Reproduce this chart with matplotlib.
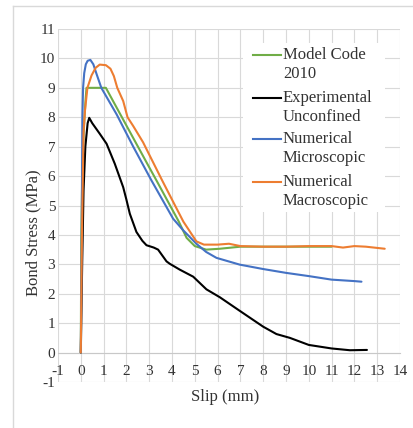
import matplotlib
matplotlib.use("Agg")
import matplotlib.pyplot as plt
from matplotlib.lines import Line2D
from matplotlib.patches import Rectangle

# ---- data ----
mc_x = [0, 0.02, 0.06, 0.12, 0.2, 0.25, 1.1, 2.0, 3.0, 3.32, 4.3, 4.64, 5.0, 5.5, 6.1, 7.0, 8, 9, 10, 11]
mc_y = [0, 3.8, 5.9, 7.4, 8.5, 9.0, 9.0, 7.72, 6.3, 5.85, 4.45, 3.9, 3.62, 3.5, 3.53, 3.6, 3.6, 3.6, 3.6, 3.6]

exp_x = [0, 0.06, 0.12, 0.2, 0.3, 0.37, 0.5, 0.83, 1.13, 1.49, 1.86, 2.0, 2.15, 2.44, 2.7, 2.88, 3.2, 3.39,
         3.76, 3.9, 4.34, 4.93, 5.51, 6.1, 6.97, 8.0, 8.58, 9.17, 10.0, 11.0, 11.8, 12.55]
exp_y = [0, 3.0, 5.5, 7.0, 7.8, 7.98, 7.8, 7.44, 7.1, 6.42, 5.62, 5.2, 4.72, 4.1, 3.8, 3.65, 3.57, 3.5,
         3.1, 3.02, 2.82, 2.58, 2.15, 1.88, 1.42, 0.88, 0.63, 0.5, 0.26, 0.14, 0.08, 0.09]

mic_x = [0, 0.04, 0.07, 0.1, 0.15, 0.22, 0.3, 0.42, 0.55, 0.7, 0.9, 1.57, 2.3, 3.1, 4.05, 4.5, 5.07, 5.5,
         5.95, 6.97, 8.0, 9.0, 10.0, 11.0, 12.0, 12.31]
mic_y = [0, 4.0, 8.0, 9.0, 9.5, 9.8, 9.92, 9.95, 9.8, 9.45, 9.0, 8.1, 7.0, 5.85, 4.55, 4.15, 3.7, 3.42,
         3.22, 2.99, 2.84, 2.71, 2.6, 2.48, 2.43, 2.41]

mac_x = [0, 0.05, 0.12, 0.18, 0.29, 0.47, 0.65, 0.83, 1.1, 1.3, 1.45, 1.6, 1.86, 2.05, 2.3, 2.73, 3.57, 4.2,
         4.5, 5.07, 5.4, 6.0, 6.5, 7.0, 8, 9, 10, 11, 11.5, 12, 12.5, 13.33]
mac_y = [0, 4.0, 7.5, 8.2, 9.0, 9.42, 9.68, 9.79, 9.77, 9.65, 9.4, 9.0, 8.55, 8.0, 7.7, 7.15, 5.85, 4.9,
         4.45, 3.78, 3.67, 3.67, 3.7, 3.62, 3.6, 3.6, 3.62, 3.62, 3.57, 3.62, 3.6, 3.53]

series_names = [["Model Code", "2010"], ["Experimental", "Unconfined"],
                ["Numerical", "Microscopic"], ["Numerical", "Macroscopic"]]
series_colors = ["#70ad47", "#000000", "#4472c4", "#ed7d31"]

x_ticks = list(range(-1, 15))
y_ticks = list(range(-1, 12))

# ---- figure ----
W, H = 414, 428
plt.rcParams['font.family'] = ['Liberation Serif', 'DejaVu Serif']
plt.rcParams['axes.unicode_minus'] = False
fig = plt.figure(figsize=(W / 100, H / 100), dpi=100)

TXT = "#333333"

def fx(px):
    return px / W

def fy(py):
    return 1 - py / H

ax = fig.add_axes([fx(58), fy(382), (400 - 58) / W, (382 - 29) / H])
ax.set_xlim(-1, 14)
ax.set_ylim(-1, 11)
ax.set_xticks(x_ticks)
ax.set_yticks(y_ticks)
ax.grid(True, color="#d9d9d9", linewidth=0.8)
ax.set_axisbelow(True)
for s in ["top", "right", "left"]:
    ax.spines[s].set_visible(False)
ax.spines["bottom"].set_position(("data", 0))
ax.spines["bottom"].set_color("#c8c8c8")
ax.spines["bottom"].set_linewidth(0.8)
ax.tick_params(axis="both", length=0, labelsize=11, labelcolor=TXT)
ax.tick_params(axis="x", pad=9)
ax.tick_params(axis="y", pad=2)

data = [(mc_x, mc_y), (exp_x, exp_y), (mic_x, mic_y), (mac_x, mac_y)]
for (xs, ys), c in zip(data, series_colors):
    ax.plot(xs, ys, color=c, linewidth=1.5, solid_joinstyle="round", solid_capstyle="round", zorder=3)

# axis titles
fig.text(fx(33), fy(233), "Bond Stress (MPa)", rotation=90, ha="center", va="center",
         fontsize=12, color=TXT)
fig.text(fx(225), fy(397), "Slip (mm)", ha="center", va="center", fontsize=12, color=TXT)

# legend (white box)
fig.add_artist(Rectangle((fx(243), fy(212)), (385 - 243) / W, (212 - 43) / H,
                         transform=fig.transFigure, facecolor="white", edgecolor="none", zorder=4))
rows = [55, 98, 139, 182]
for (l1, l2), c, r in zip(series_names, series_colors, rows):
    fig.add_artist(Line2D([fx(253), fx(281)], [fy(r), fy(r)], color=c, linewidth=1.5,
                          transform=fig.transFigure, zorder=5))
    fig.text(fx(283), fy(r), l1, ha="left", va="center", fontsize=12, color=TXT, zorder=6)
    fig.text(fx(283), fy(r + 19), l2, ha="left", va="center", fontsize=12, color=TXT, zorder=6)

# outer chart border (top and left only visible)
fig.add_artist(Line2D([fx(13), fx(13)], [fy(6), 0], color="#d9d9d9", linewidth=1, transform=fig.transFigure))
fig.add_artist(Line2D([fx(13), 1], [fy(6), fy(6)], color="#d9d9d9", linewidth=1, transform=fig.transFigure))

fig.savefig("out.png", dpi=100)
